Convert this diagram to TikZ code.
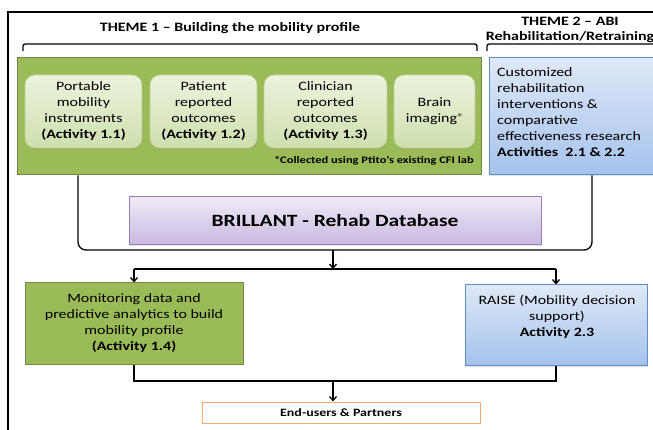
\documentclass[tikz,border=0pt]{standalone}
\usepackage{fontspec}
\setmainfont{Carlito}
\usepackage{graphicx}
\usetikzlibrary{arrows.meta,shadows}
\newcommand\sq[2][c]{\scalebox{1}[0.8]{\begin{tabular}{@{}#1@{}}#2\end{tabular}}}
\definecolor{grnfill}{RGB}{155,187,89}
\definecolor{grnline}{RGB}{113,137,63}
\definecolor{intop}{RGB}{236,243,222}
\definecolor{inbot}{RGB}{206,223,174}
\definecolor{inline}{RGB}{190,210,150}
\definecolor{bluetop}{RGB}{222,232,247}
\definecolor{bluebot}{RGB}{165,194,236}
\definecolor{blueline}{RGB}{96,140,200}
\definecolor{purtop}{RGB}{240,234,248}
\definecolor{purbot}{RGB}{200,184,224}
\definecolor{purline}{RGB}{150,125,182}
\definecolor{orgline}{RGB}{246,172,112}
\begin{document}
\begin{tikzpicture}[x=1pt,y=-1pt,
  every node/.style={inner sep=0pt, font=\fontsize{16}{20}\selectfont},
  shd/.style={drop shadow={opacity=0.22, shadow xshift=1.2pt, shadow yshift=-1.5pt}},
  grnbox/.style={fill=grnfill, draw=grnline, line width=1pt},
  inbox/.style={shd, rounded corners=10pt, top color=intop, bottom color=inbot, draw=inline, line width=0.6pt},
  bluebox/.style={shd, top color=bluetop, bottom color=bluebot, draw=blueline, line width=1pt},
  purbox/.style={shd, top color=purtop, bottom color=purbot, draw=purline, line width=1pt},
  orgbox/.style={fill=white, draw=orgline, line width=1pt},
  hdr/.style={font=\fontsize{16}{20}\selectfont\bfseries},
  brk/.style={line width=1.3pt, rounded corners=2pt},
  conn/.style={line width=1.3pt},
  arr/.style={conn, -{Straight Barb[length=4pt,width=7pt]}}]
\clip (0,0) rectangle (653,430);
\fill[white] (0,0) rectangle (653,430);
% frame
\draw[line width=2pt] (8,440) -- (8,12) -- (670,12);
% headers
\node[hdr] (h1) at (230,28) {\scalebox{1}[0.8]{THEME 1 -- Building the mobility profile}};
\node[hdr] (h2a) at (570,21) {\scalebox{1}[0.8]{THEME 2 -- ABI}};
\node[hdr] (h2b) at (570,37) {\scalebox{1}[0.8]{Rehabilitation/Retraining}};
% brackets
\draw[brk] (23,51) -- (23,44) -- (477,44) -- (477,51);
\draw[brk] (487,51) -- (487,44) -- (670,44);
% theme 1 box
\node[grnbox, minimum width=464pt, minimum height=117pt] (grn) at (249,116.5) {};
\node[inbox, minimum width=117pt, minimum height=73pt] (a1) at (83.5,111.5)
  {\sq{Portable\\mobility\\instruments\\\textbf{(Activity 1.1)}}};
\node[inbox, minimum width=107pt, minimum height=73pt] (a2) at (203.5,111.5)
  {\sq{Patient\\reported\\outcomes\\\textbf{(Activity 1.2)}}};
\node[inbox, minimum width=123pt, minimum height=73pt] (a3) at (325.5,111.5)
  {\sq{Clinician\\reported\\outcomes\\\textbf{(Activity 1.3)}}};
\node[inbox, minimum width=81pt, minimum height=73pt] (a4) at (434.5,111.5)
  {\sq{Brain\\imaging$^{*}$}};
\node[anchor=east, font=\fontsize{12.5}{15}\selectfont\bfseries] (note) at (474,161)
  {\scalebox{1}[0.8]{*Collected using Ptito’s existing CFI lab}};
% theme 2 box
\node[bluebox, minimum width=206pt, minimum height=117pt] (blu) at (592,116.5) {};
\node[anchor=west] (blut) at (497,113)
  {\sq[l]{Customized\\rehabilitation\\interventions \&\\comparative\\effectiveness research\\\textbf{Activities\ \ 2.1 \& 2.2}}};
% database
\node[purbox, minimum width=412pt, minimum height=48pt, font=\fontsize{21.5}{26}\selectfont\bfseries] (db) at (335,221)
  {\scalebox{1}[0.8]{BRILLANT - Rehab Database}};
% lower boxes
\node[grnbox, minimum width=218pt, minimum height=81pt] (g2) at (134,323.5)
  {\sq{Monitoring data and\\predictive analytics to build\\mobility profile\\\textbf{(Activity 1.4)}}};
\node[bluebox, minimum width=182pt, minimum height=80pt] (b2) at (556,325) {};
\node (b2t) at (557,317)
  {\sq{RAISE (Mobility decision\\support)\\\textbf{Activity 2.3}}};
\node[orgbox, minimum width=278pt, minimum height=21pt, font=\fontsize{14}{17}\selectfont\bfseries] (eu) at (341,412.5)
  {\scalebox{1}[0.8]{End-users \& Partners}};
% connectors
\coordinate (lx) at (78,250);
\coordinate (rx) at (592,250);
\coordinate (j1) at (333,250);
\coordinate (j2) at (333,269);
\coordinate (j3) at (333,381);
\draw[conn, rounded corners=8pt] (grn.south -| lx) -- (lx) -- (rx) -- (blu.south -| rx);
\draw[arr] (j1) -- (j2);
\draw[conn] (j2 -| g2.north) -- (j2 -| b2.north);
\draw[arr] (j2 -| g2.north) -- (g2.north);
\draw[arr] (j2 -| b2.north) -- (b2.north);
\draw[conn] (g2.south) -- (g2.south |- j3) -- (b2.south |- j3) -- (b2.south);
\draw[arr] (j3) -- (j3 |- eu.north);
\end{tikzpicture}
\end{document}
